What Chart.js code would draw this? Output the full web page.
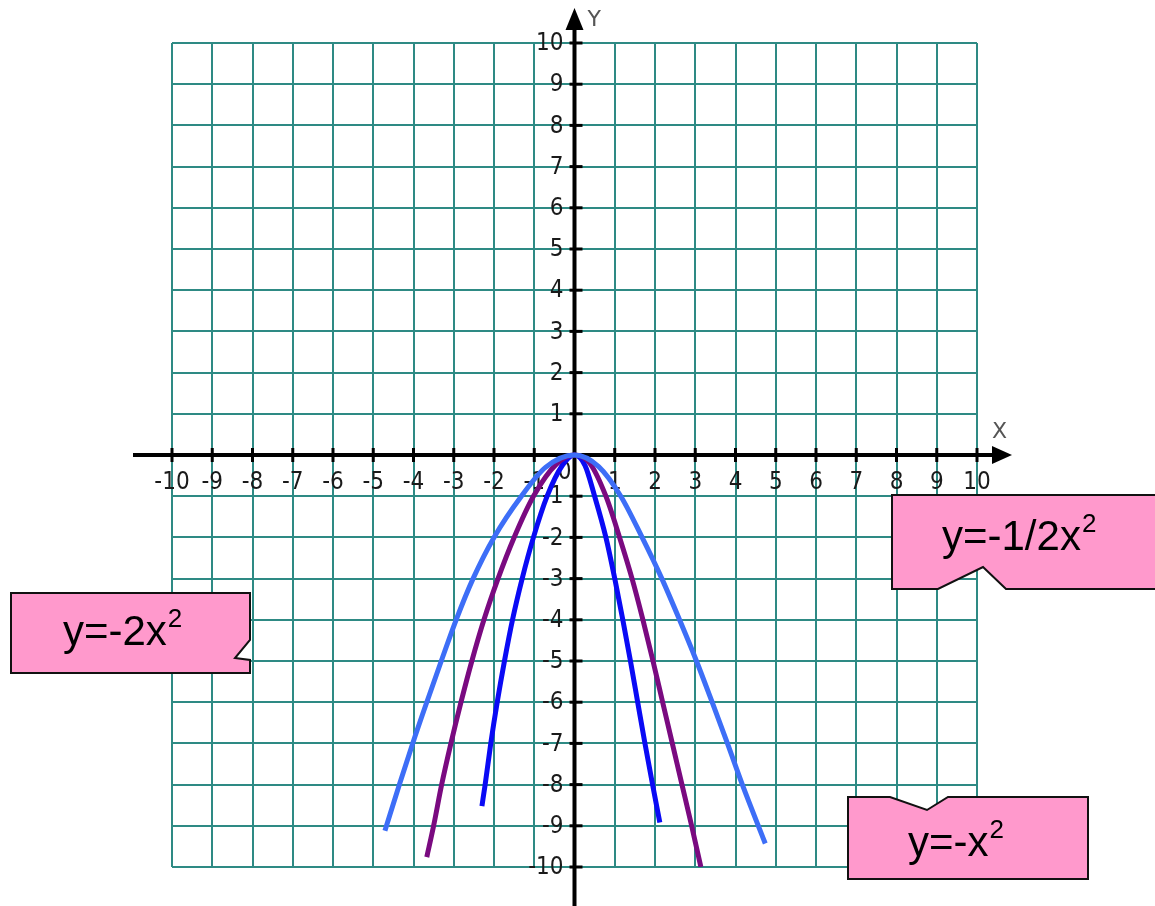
<!DOCTYPE html>
<html>
<head>
<meta charset="utf-8">
<title>y=-2x², y=-x², y=-1/2x²</title>
<script src="https://cdn.jsdelivr.net/npm/chart.js@4.4.1/dist/chart.umd.min.js"></script>
<style>
    body { margin: 0; background: #fff; }
    #wrap { width: 1155px; height: 906px; }
</style>
</head>
<body>
<div id="wrap"><canvas id="parabolas" width="1155" height="906"></canvas></div>
<script>
// tick values on both axes
const tickValues = [-10, -9, -8, -7, -6, -5, -4, -3, -2, -1, 1, 2, 3, 4, 5, 6, 7, 8, 9, 10];

// y = -1/2x^2 (light blue)
const halfX = [-4.71, -4.35, -4.02, -3.67, -3.31, -2.94, -2.52, -2.0, -1.32, -0.72, 0, 0.6, 1.15, 1.68, 2.17, 2.61, 3.03, 3.42, 3.8, 4.17, 4.74];
const halfY = [-9.12, -8, -7, -6, -5, -4, -3, -2, -1, -0.3, 0, -0.28, -1, -2, -3, -4, -5, -6, -7, -8, -9.43];

// y = -x^2 (purple)
const oneX = [-3.67, -3.5, -3.3, -3.07, -2.82, -2.55, -2.25, -1.9, -1.5, -1.02, -0.45, 0, 0.38, 0.78, 1.12, 1.43, 1.7, 1.95, 2.19, 2.43, 2.67, 2.91, 3.14];
const oneY = [-9.76, -9, -8, -7, -6, -5, -4, -3, -2, -1, -0.22, 0, -0.2, -1, -2, -3, -4, -5, -6, -7, -8, -9, -10];

// y = -2x^2 (blue)
const twoX = [-2.3, -2.22, -2.08, -1.92, -1.74, -1.54, -1.3, -1.02, -0.68, -0.3, 0, 0.26, 0.5, 0.78, 1.0, 1.2, 1.39, 1.57, 1.75, 1.94, 2.12];
const twoY = [-8.52, -8, -7, -6, -5, -4, -3, -2, -1, -0.25, 0, -0.25, -1, -2, -3, -4, -5, -6, -7, -8, -8.92];

// callout labels
const labelTexts = ['y=-2x', 'y=-1/2x', 'y=-x'];

function toPoints(xs, ys) {
    return xs.map((x, i) => ({ x: x, y: ys[i] }));
}

const numFont = "24px 'Liberation Sans Narrow', 'DejaVu Sans Condensed', sans-serif";

// axes with arrows, ticks and numbers, drawn under the curves
const axesPlugin = {
    id: 'axes',
    beforeDatasetsDraw(chart) {
        const ctx = chart.ctx;
        const xs = chart.scales.x, ys = chart.scales.y;
        const ox = xs.getPixelForValue(0);
        const oy = ys.getPixelForValue(0);
        ctx.save();
        ctx.fillStyle = '#000';
        ctx.strokeStyle = '#000';
        ctx.lineWidth = 4;

        // x axis
        ctx.beginPath();
        ctx.moveTo(133, oy);
        ctx.lineTo(995, oy);
        ctx.stroke();
        ctx.beginPath();
        ctx.moveTo(1012, oy);
        ctx.lineTo(992, oy - 9);
        ctx.lineTo(992, oy + 9);
        ctx.closePath();
        ctx.fill();

        // y axis
        ctx.beginPath();
        ctx.moveTo(ox, 906);
        ctx.lineTo(ox, 26);
        ctx.stroke();
        ctx.beginPath();
        ctx.moveTo(ox, 8);
        ctx.lineTo(ox - 9, 30);
        ctx.lineTo(ox + 9, 30);
        ctx.closePath();
        ctx.fill();

        // ticks
        ctx.lineWidth = 3;
        tickValues.forEach(v => {
            const px = xs.getPixelForValue(v);
            ctx.beginPath();
            ctx.moveTo(px, oy - 7);
            ctx.lineTo(px, oy + 7);
            ctx.stroke();
            const py = ys.getPixelForValue(v);
            ctx.beginPath();
            ctx.moveTo(ox - 5, py);
            ctx.lineTo(ox + 8, py);
            ctx.stroke();
        });

        // numbers
        ctx.font = numFont;
        ctx.fillStyle = '#1a1a1a';
        ctx.textBaseline = 'middle';
        ctx.textAlign = 'center';
        tickValues.forEach(v => {
            ctx.fillText(String(v), xs.getPixelForValue(v), oy + 28);
        });
        ctx.textAlign = 'right';
        tickValues.forEach(v => {
            ctx.fillText(String(v), ox - 11, ys.getPixelForValue(v) + 1);
        });
        ctx.textAlign = 'center';
        ctx.fillText('0', ox - 10, oy + 18);

        // axis names
        ctx.font = "22px 'DejaVu Sans', sans-serif";
        ctx.fillStyle = '#555';
        ctx.textAlign = 'left';
        ctx.fillText('Y', ox + 13, 20);
        ctx.fillText('X', 992, 432);
        ctx.restore();
    }
};

function drawCallout(ctx, pts, text, tx, ty) {
    ctx.beginPath();
    ctx.moveTo(pts[0][0], pts[0][1]);
    for (let i = 1; i < pts.length; i++) ctx.lineTo(pts[i][0], pts[i][1]);
    ctx.closePath();
    ctx.fillStyle = '#FF99CC';
    ctx.fill();
    ctx.lineWidth = 2;
    ctx.strokeStyle = '#111';
    ctx.stroke();

    ctx.fillStyle = '#000';
    ctx.textBaseline = 'alphabetic';
    ctx.textAlign = 'left';
    ctx.font = "42px 'Liberation Sans', Arial, sans-serif";
    ctx.fillText(text, tx, ty);
    const w = ctx.measureText(text).width;
    ctx.font = "26px 'Liberation Sans', Arial, sans-serif";
    ctx.fillText('2', tx + w + 1, ty - 18);
}

// pink callout boxes on top of everything
const calloutPlugin = {
    id: 'callouts',
    afterDraw(chart) {
        const ctx = chart.ctx;
        ctx.save();
        drawCallout(ctx, [[11, 593], [250, 593], [250, 640], [235, 658], [250, 660], [250, 673], [11, 673]],
            labelTexts[0], 63, 645);
        drawCallout(ctx, [[892, 495], [1160, 495], [1160, 589], [1006, 589], [983, 567], [938, 589], [892, 589]],
            labelTexts[1], 942, 550);
        drawCallout(ctx, [[848, 797], [890, 797], [927, 810], [948, 797], [1088, 797], [1088, 879], [848, 879]],
            labelTexts[2], 908, 856);
        ctx.restore();
    }
};

const lineStyle = {
    showLine: true,
    pointRadius: 0,
    borderWidth: 5,
    borderCapStyle: 'butt',
    fill: false,
    cubicInterpolationMode: 'monotone'
};

const ctx = document.getElementById('parabolas').getContext('2d');

new Chart(ctx, {
    type: 'scatter',
    data: {
        datasets: [
            Object.assign({ label: 'y=-1/2x²', data: toPoints(halfX, halfY), borderColor: '#3D6EF7' }, lineStyle),
            Object.assign({ label: 'y=-x²', data: toPoints(oneX, oneY), borderColor: '#7A0A80' }, lineStyle),
            Object.assign({ label: 'y=-2x²', data: toPoints(twoX, twoY), borderColor: '#0A0AF5' }, lineStyle)
        ]
    },
    options: {
        responsive: false,
        animation: false,
        layout: {
            padding: { left: 172, right: 178, top: 43, bottom: 39 }
        },
        plugins: {
            legend: { display: false },
            tooltip: { enabled: false }
        },
        scales: {
            x: {
                type: 'linear',
                min: -10,
                max: 10,
                ticks: { stepSize: 1, display: false },
                grid: { color: '#2E8A84', lineWidth: 2, drawTicks: false },
                border: { display: false }
            },
            y: {
                type: 'linear',
                min: -10,
                max: 10,
                ticks: { stepSize: 1, display: false },
                grid: { color: '#2E8A84', lineWidth: 2, drawTicks: false },
                border: { display: false }
            }
        }
    },
    plugins: [axesPlugin, calloutPlugin]
});
</script>
</body>
</html>
